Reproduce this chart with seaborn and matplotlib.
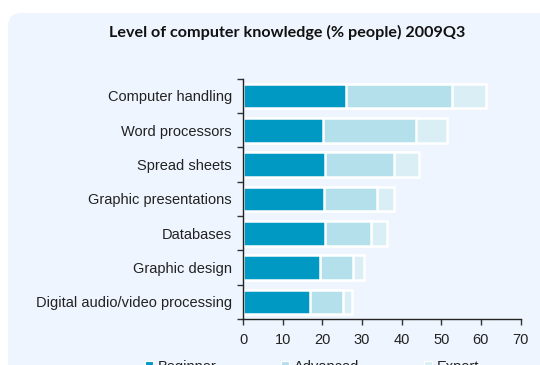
import matplotlib
matplotlib.use("Agg")
import matplotlib.pyplot as plt
from matplotlib.patches import FancyBboxPatch, Patch
import numpy as np
import pandas as pd
import seaborn as sns

# Share of people by skill and level of computer knowledge, 2009Q3
skills = [
    "Computer handling",
    "Word processors",
    "Spread sheets",
    "Graphic presentations",
    "Databases",
    "Graphic design",
    "Digital audio/video processing",
]
beginner = [26.1, 20.1, 20.8, 20.4, 20.8, 19.4, 17.0]
advanced = [26.7, 23.6, 17.3, 13.4, 11.6, 8.4, 8.1]
expert = [8.4, 7.8, 6.2, 4.4, 4.0, 2.6, 2.4]
levels = ["Beginner", "Advanced", "Expert"]
x_ticks = [0, 10, 20, 30, 40, 50, 60, 70]

colors = {"Beginner": "#0099C4", "Advanced": "#B4E0EC", "Expert": "#DAEFF5"}
panel_bg = "#EEF5FE"

sns.set_theme(style="white")
plt.rcParams["font.family"] = ["Liberation Sans", "DejaVu Sans"]

df = pd.DataFrame({"skill": skills, "Beginner": beginner,
                   "Advanced": advanced, "Expert": expert})
df["cum_adv"] = df["Beginner"] + df["Advanced"]
df["cum_exp"] = df["cum_adv"] + df["Expert"]

fig = plt.figure(figsize=(5.4, 3.65), dpi=100)
fig.patch.set_facecolor("white")

# rounded light-blue panel behind the chart
panel = FancyBboxPatch((8 / 540, -0.2), 1.2, (365 - 13) / 365 + 0.2,
                       boxstyle="round,pad=0,rounding_size=0.025",
                       transform=fig.transFigure, facecolor=panel_bg,
                       edgecolor="none", zorder=-5, mutation_aspect=540 / 365)
fig.patches.append(panel)

ax = fig.add_axes([0.45, 0.126, 0.514, 0.658])
ax.set_facecolor("none")
ax.set_zorder(2)

# stacked bars: draw cumulative totals back to front
for col, lvl in [("cum_exp", "Expert"), ("cum_adv", "Advanced"), ("Beginner", "Beginner")]:
    sns.barplot(data=df, x=col, y="skill", orient="h", color=colors[lvl],
                saturation=1, width=0.72, edgecolor="white", linewidth=1.8,
                ax=ax)

ax.set_xlim(0, 70)
ax.set_xticks(x_ticks)
ax.set_xticklabels([str(t) for t in x_ticks], fontsize=10.5, color="#222222")
ax.set_xlabel("")
ax.set_ylabel("")
ax.tick_params(axis="y", which="major", length=0, labelsize=10.5,
               labelcolor="#222222", pad=8)
ax.set_yticks(np.arange(-0.5, len(skills), 1.0), minor=True)
ax.tick_params(axis="y", which="minor", length=4, width=1, color="#333333",
               direction="out", left=True)
ax.tick_params(axis="x", which="major", length=4, width=1, color="#333333",
               direction="out", bottom=True, pad=6)
ax.set_ylim(len(skills) - 0.5, -0.5)

for side in ["top", "right"]:
    ax.spines[side].set_visible(False)
for side in ["left", "bottom"]:
    ax.spines[side].set_color("#222222")
    ax.spines[side].set_linewidth(1.0)

fig.text(0.532, 0.912, "Level of computer knowledge (% people) 2009Q3",
         ha="center", va="center", fontsize=11.6, fontweight="bold",
         family=["Lato", "DejaVu Sans"], color="#111111")

handles = [Patch(facecolor=colors[l], edgecolor="white", linewidth=0.8) for l in levels]
fig.legend(handles, levels, loc="center", bbox_to_anchor=(0.578, -0.005),
           ncol=3, frameon=False, fontsize=10.5, handlelength=0.55,
           handleheight=0.55, handletextpad=0.35, columnspacing=4.4,
           labelcolor="#222222")

fig.savefig("out.png", dpi=100, facecolor="white")
